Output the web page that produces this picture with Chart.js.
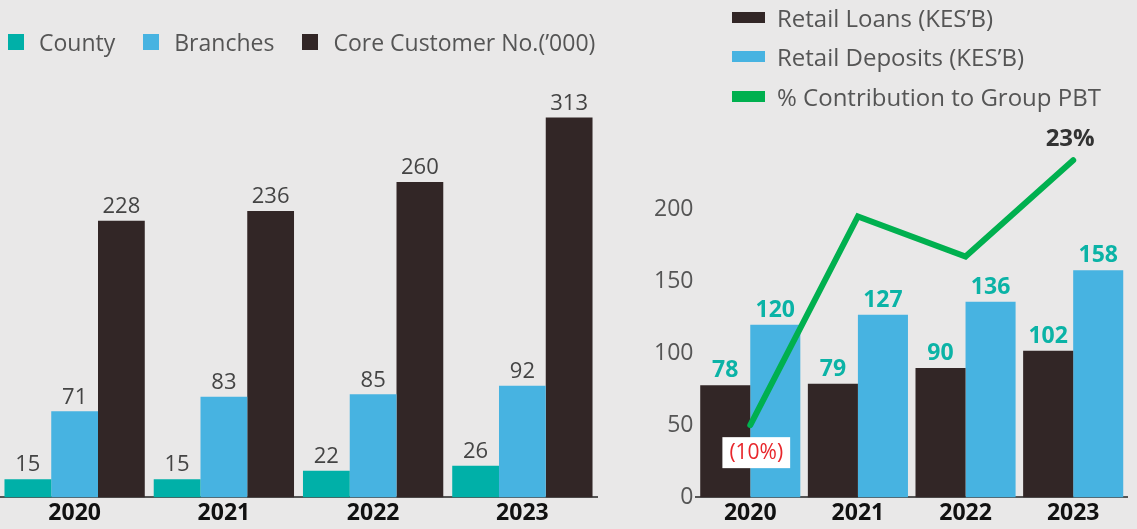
<!DOCTYPE html>
<html>
<head>
<meta charset="utf-8">
<title>Retail</title>
<script src="https://cdn.jsdelivr.net/npm/chart.js@4.4.1/dist/chart.umd.min.js"></script>
<style>
  body { margin: 0; background: #e9e8e8; font-family: "Open Sans", sans-serif; }
  #wrap { position: relative; width: 1137px; height: 529px; overflow: hidden; }
  #box-izq { position: absolute; left: 0; top: 0; width: 615px; height: 529px; }
  #box-der { position: absolute; left: 630px; top: 0; width: 507px; height: 529px; }
  #leyenda-izq { position: absolute; left: 8px; top: 24px; display: flex; height: 36px; align-items: center; }
  #leyenda-izq .item { display: flex; align-items: center; font-size: 23px; color: #555; margin-right: 28px; white-space: nowrap; }
  #leyenda-izq .item span { display: inline-block; width: 16px; height: 16px; margin-right: 15px; }
  #leyenda-der { position: absolute; left: 732px; top: -2px; }
  #leyenda-der .item { display: flex; align-items: center; height: 40px; font-size: 24px; color: #555; white-space: nowrap; }
  #leyenda-der .item:first-child { height: 38px; }
  #leyenda-der .item span { display: inline-block; width: 33px; height: 11px; margin-right: 12px; }
</style>
</head>
<body>
<div id="wrap">
  <div id="box-izq"><canvas id="graficaIzq"></canvas></div>
  <div id="box-der"><canvas id="graficaDer"></canvas></div>
  <div id="leyenda-izq"></div>
  <div id="leyenda-der"></div>
</div>
<script>
// Datos
const anios = ["2020", "2021", "2022", "2023"];

// grafica izquierda
const condados = [15, 15, 22, 26];
const sucursales = [71, 83, 85, 92];
const clientes = [228, 236, 260, 313];

// grafica derecha
const prestamos = [78, 79, 90, 102];
const depositos = [120, 127, 136, 158];
const contribucion = [-10, 16, 11, 23]; // % del PBT del grupo
const ticksDer = [0, 50, 100, 150, 200];

Chart.defaults.font.family = "'Open Sans', sans-serif";

// Etiquetas de valor encima de cada barra
const etiquetasBarras = {
  id: "etiquetasBarras",
  afterDatasetsDraw(chart, args, opts) {
    const ctx = chart.ctx;
    ctx.save();
    ctx.font = opts.font;
    ctx.fillStyle = opts.color;
    ctx.textAlign = "center";
    ctx.textBaseline = "bottom";
    chart.data.datasets.forEach((ds, i) => {
      if (ds.type === "line") return;
      chart.getDatasetMeta(i).data.forEach((bar, j) => {
        ctx.fillText(ds.data[j], bar.x, bar.y - opts.offset);
      });
    });
    ctx.restore();
  },
};

// Etiquetas del primer y ultimo punto de la linea
const etiquetasLinea = {
  id: "etiquetasLinea",
  afterDatasetsDraw(chart) {
    const idx = chart.data.datasets.findIndex((d) => d.type === "line");
    const meta = chart.getDatasetMeta(idx);
    const datos = chart.data.datasets[idx].data;
    const ctx = chart.ctx;
    [0, datos.length - 1].forEach((j) => {
      const p = meta.data[j];
      const v = datos[j];
      const txt = v < 0 ? `(${Math.abs(v)}%)` : `${v}%`;
      ctx.save();
      ctx.textAlign = "center";
      ctx.textBaseline = "middle";
      if (v < 0) {
        ctx.font = "21px 'Open Sans'";
        const w = ctx.measureText(txt).width + 14;
        const cx = p.x + 6, cy = p.y + 27;
        ctx.fillStyle = "#ffffff";
        ctx.fillRect(cx - w / 2, cy - 15, w, 31);
        ctx.fillStyle = "#e8262b";
        ctx.fillText(txt, cx, cy + 1);
      } else {
        ctx.font = "bold 24px 'Open Sans'";
        ctx.fillStyle = "#333333";
        ctx.fillText(txt, p.x - 3, p.y - 21);
      }
      ctx.restore();
    });
  },
};

// Leyenda HTML a partir de los datasets
function pintarLeyenda(id, grafica) {
  const caja = document.getElementById(id);
  caja.innerHTML = grafica.data.datasets
    .map((d) => `<div class="item"><span style="background:${d.type === "line" ? d.borderColor : d.backgroundColor}"></span>${d.label}</div>`)
    .join("");
}

function crearGraficaIzq() {
  const grafica = new Chart(document.getElementById("graficaIzq"), {
    type: "bar",
    data: {
      labels: anios,
      datasets: [
        { label: "County", data: condados, backgroundColor: "#00b0a8" },
        { label: "Branches", data: sucursales, backgroundColor: "#47b3e1" },
        { label: "Core Customer No.(’000)", data: clientes, backgroundColor: "#322626" },
      ],
    },
    options: {
      responsive: true,
      maintainAspectRatio: false,
      animation: false,
      layout: { padding: { top: 80, right: 18 } },
      datasets: { bar: { barPercentage: 1, categoryPercentage: 0.94 } },
      scales: {
        x: {
          grid: { display: false, drawTicks: false },
          border: { color: "#555", width: 2 },
          ticks: { color: "#111", font: { size: 23, weight: "bold" }, padding: 2 },
        },
        y: { display: false, min: 0, max: 344 },
      },
      plugins: {
        legend: { display: false },
        tooltip: { enabled: false },
        etiquetasBarras: { font: "22px 'Open Sans'", color: "#444", offset: 3 },
      },
    },
    plugins: [etiquetasBarras],
  });
  pintarLeyenda("leyenda-izq", grafica);
}

function crearGraficaDer() {
  const grafica = new Chart(document.getElementById("graficaDer"), {
    type: "bar",
    data: {
      labels: anios,
      datasets: [
        { label: "Retail Loans (KES’B)", data: prestamos, backgroundColor: "#322626", order: 1 },
        { label: "Retail Deposits (KES’B)", data: depositos, backgroundColor: "#47b3e1", order: 1 },
        {
          type: "line",
          label: "% Contribution to Group PBT",
          data: contribucion,
          borderColor: "#00b04f",
          borderWidth: 6,
          borderCapStyle: "round",
          pointRadius: 0,
          tension: 0,
          yAxisID: "y1",
          order: 0,
          clip: false,
        },
      ],
    },
    options: {
      responsive: true,
      maintainAspectRatio: false,
      animation: false,
      layout: { padding: { top: 145, right: 10, left: 21 } },
      datasets: { bar: { barPercentage: 1, categoryPercentage: 0.93 } },
      scales: {
        x: {
          grid: { display: false, drawTicks: false },
          border: { color: "#555", width: 2 },
          ticks: { color: "#111", font: { size: 23, weight: "bold" }, padding: 2 },
        },
        y: {
          min: 0,
          max: 245,
          grid: { display: false, drawTicks: false },
          border: { display: false },
          ticks: { color: "#555", font: { size: 23 }, padding: 3 },
          afterBuildTicks: (axis) => {
            axis.ticks = ticksDer.map((v) => ({ value: v }));
          },
        },
        y1: { display: false, min: -19, max: 24.9 },
      },
      plugins: {
        legend: { display: false },
        tooltip: { enabled: false },
        etiquetasBarras: { font: "bold 23px 'Open Sans'", color: "#0bb3a6", offset: 3 },
      },
    },
    plugins: [etiquetasBarras, etiquetasLinea],
  });
  pintarLeyenda("leyenda-der", grafica);
}

document.addEventListener("DOMContentLoaded", () => {
  crearGraficaIzq();
  crearGraficaDer();
});
</script>
</body>
</html>
